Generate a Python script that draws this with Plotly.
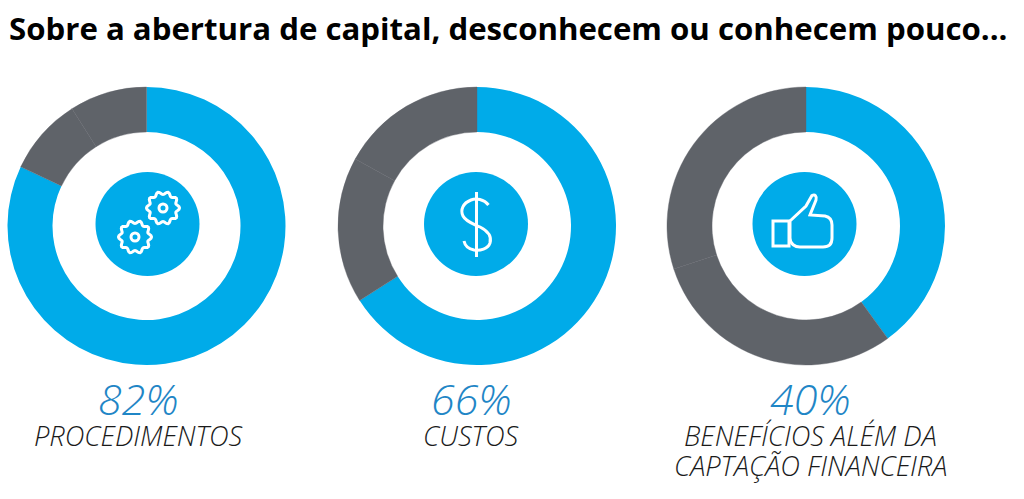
import math
import plotly.graph_objects as go

TITLE = "Sobre a abertura de capital, desconhecem ou conhecem pouco..."
percent_labels = ["82%", "66%", "40%"]
captions = [["PROCEDIMENTOS"], ["CUSTOS"], ["BENEFÍCIOS ALÉM DA", "CAPTAÇÃO FINANCEIRA"]]
segment_names = ["Desconhecem ou conhecem pouco", "Outros A", "Outros B"]
values_procedimentos = [82, 9, 9]
values_custos = [66, 17, 17]
values_beneficios = [40, 30, 30]
all_values = [values_procedimentos, values_custos, values_beneficios]

W, H = 1024, 499
CX = [146.5, 477, 806]
ICON_CX = [147.5, 476, 804.5]
CY = 226
ICON_CY = 224
R_OUT, R_IN, R_ICON = 139, 94, 52
BLUE, GRAY, WHITE = "#00ABE9", "#5F6369", "#FFFFFF"

fig = go.Figure()
for vals, cx in zip(all_values, CX):
    fig.add_trace(go.Pie(
        values=vals, labels=segment_names, sort=False, direction="clockwise", rotation=0,
        hole=R_IN / R_OUT,
        marker=dict(colors=[BLUE, GRAY, GRAY], line=dict(width=[0, 0.4, 0.4], color=GRAY)),
        textinfo="none", showlegend=False,
        domain=dict(x=[(cx - R_OUT) / W, (cx + R_OUT) / W],
                    y=[1 - (CY + R_OUT) / H, 1 - (CY - R_OUT) / H]),
    ))


def gear(cx, cy, r1, r2, teeth=10):
    pts = []
    n = teeth * 8
    for i in range(n):
        a = 2 * math.pi * i / n
        r = (r1 + r2) / 2 + (r2 - r1) / 2 * math.cos(teeth * a)
        pts.append(f"{cx + r * math.cos(a):.2f} {cy + r * math.sin(a):.2f}")
    return "M" + " L".join(pts) + " Z"


def circle(cx, cy, r):
    return dict(type="circle", xref="x", yref="y", x0=cx - r, x1=cx + r, y0=cy - r, y1=cy + r)


shapes = []
for cx in ICON_CX:
    shapes.append({**circle(cx, ICON_CY, R_ICON), "fillcolor": BLUE, "line_width": 0})

icon = dict(color=WHITE, width=3)
# gears
for gx, gy in [(163, 208), (135, 237)]:
    shapes.append(dict(type="path", xref="x", yref="y", path=gear(gx, gy, 13.5, 16.5), line=icon))
    shapes.append({**circle(gx, gy, 4), "line": icon})
# dollar
shapes.append(dict(type="path", xref="x", yref="y", line=dict(color=WHITE, width=3),
                   path="M488.5 205 C484 199 476 198 471 200 C463 203 460 210 463 216 "
                        "C466 222 474 224 480 227 C488 231 492 236 490 243 "
                        "C488 249 480 251 474 250 C469 249 465 246 464 241"))
shapes.append(dict(type="line", xref="x", yref="y", x0=476.5, x1=476.5, y0=192, y1=257,
                   line=dict(color=WHITE, width=3)))
# thumbs up
shapes.append(dict(type="path", xref="x", yref="y", line=icon,
                   path="M773 221 H789 V246 H773 Z"))
shapes.append(dict(type="path", xref="x", yref="y", line=icon,
                   path="M790 221 L806 206 L812 195.5 C815 194 817 196 816 200 L810 215 "
                        "L825 216 C830 217 832 221 832 225 L832 238 C832 245 828 247 823 247 "
                        "L800 247 C795 247 790 244 790 238 Z"))

annotations = [dict(text=f"<b>{TITLE}</b>", x=7, y=28, xref="x", yref="y", xanchor="left", yanchor="middle",
                    showarrow=False, font=dict(family="Open Sans", size=31.2, color="#000000"))]
label_x = [138, 471, 810]
LINE_GAP = 30
for pct, cap, lx in zip(percent_labels, captions, label_x):
    annotations.append(dict(text=f"<i>{pct}</i>", x=lx, y=398, xref="x", yref="y", showarrow=False,
                            font=dict(family="Open Sans", size=43, color="#1F86C6", weight=300)))
    for i, line in enumerate(cap):
        annotations.append(dict(text=f"<i>{line}</i>", x=lx, y=435 + i * LINE_GAP, xref="x", yref="y",
                                showarrow=False,
                                font=dict(family="Open Sans", size=27.3, color="#1A1A1A", weight=300)))

fig.update_layout(
    width=W, height=H, margin=dict(l=0, r=0, t=0, b=0), autosize=False,
    paper_bgcolor=WHITE, plot_bgcolor=WHITE, shapes=shapes, annotations=annotations,
    xaxis=dict(range=[0, W], visible=False, fixedrange=True),
    yaxis=dict(range=[H, 0], visible=False, fixedrange=True),
)
fig.write_html("out.html", config=dict(displayModeBar=False),
               post_script="document.body.style.margin='0';document.documentElement.style.overflow='hidden';")
